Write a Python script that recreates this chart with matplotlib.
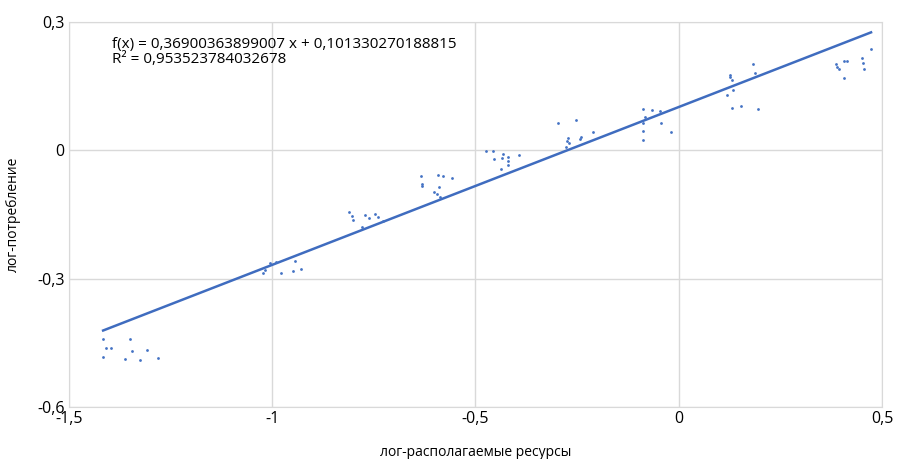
import matplotlib.pyplot as plt
import numpy as np

# log available resources vs log consumption
log_res = [
    -1.416, -1.349, -1.410, -1.397, -1.345, -1.309, -1.416, -1.362, -1.325, -1.280,
    -1.022, -1.006, -0.990, -0.979, -0.943, -0.948, -0.930, -1.017,
    -0.810, -0.803, -0.802, -0.772, -0.761, -0.748, -0.740, -0.778, -0.728,
    -0.634, -0.593, -0.581, -0.559, -0.632, -0.631, -0.591, -0.601, -0.595, -0.587,
    -0.475, -0.458, -0.455, -0.432, -0.436, -0.419, -0.420, -0.420, -0.392, -0.437,
    -0.296, -0.253, -0.211, -0.273, -0.276, -0.270, -0.240, -0.242, -0.278,
    -0.089, -0.065, -0.046, -0.084, -0.044, -0.089, -0.087, -0.020, -0.087,
    0.182, 0.188, 0.125, 0.127, 0.132, 0.133, 0.119, 0.130, 0.153, 0.196,
    0.473, 0.386, 0.389, 0.395, 0.407, 0.413, 0.451, 0.454, 0.455, 0.407,
]
log_cons = [
    -0.442, -0.441, -0.462, -0.462, -0.470, -0.466, -0.484, -0.487, -0.491, -0.485,
    -0.287, -0.263, -0.262, -0.287, -0.258, -0.282, -0.278, -0.280,
    -0.144, -0.153, -0.162, -0.152, -0.158, -0.148, -0.156, -0.180, -0.166,
    -0.060, -0.058, -0.061, -0.065, -0.078, -0.084, -0.086, -0.097, -0.101, -0.109,
    -0.002, -0.002, -0.020, -0.008, -0.019, -0.016, -0.026, -0.034, -0.011, -0.043,
    0.064, 0.072, 0.044, 0.030, 0.022, 0.018, 0.031, 0.026, 0.009,
    0.096, 0.095, 0.092, 0.078, 0.065, 0.064, 0.045, 0.044, 0.025,
    0.201, 0.181, 0.177, 0.172, 0.164, 0.141, 0.130, 0.100, 0.104, 0.097,
    0.238, 0.203, 0.196, 0.191, 0.210, 0.210, 0.216, 0.205, 0.191, 0.169,
]
slope = 0.36900363899007
intercept = 0.101330270188815
r2 = 0.953523784032678

x_ticks = [-1.5, -1, -0.5, 0, 0.5]
y_ticks = [-0.6, -0.3, 0, 0.3]

plt.rcParams['font.family'] = ['Open Sans', 'DejaVu Sans']

fig = plt.figure(figsize=(8.97, 4.59), dpi=100)
ax = fig.add_axes([0.0769, 0.1133, 0.9064, 0.8387])

x = np.array(log_res)
ax.scatter(x, log_cons, s=4, color='#4472c4', zorder=3, linewidths=0)
xl = np.array([x.min(), x.max()])
ax.plot(xl, slope * xl + intercept, color='#3f6cbf', lw=1.8, zorder=2)

ax.set_xlim(-1.5, 0.5)
ax.set_ylim(-0.6, 0.3)
ax.set_xticks(x_ticks)
ax.set_yticks(y_ticks)
fmt = lambda v: ('%g' % v).replace('.', ',')
ax.set_xticklabels([fmt(v) for v in x_ticks], fontsize=11.5)
ax.set_yticklabels([fmt(v) for v in y_ticks], fontsize=11.5)
ax.tick_params(length=0, pad=3)
ax.grid(True, color='#d9d9d9', lw=1)
ax.set_axisbelow(True)
for s in ax.spines.values():
    s.set_color('#d9d9d9')

ax.set_xlabel('лог-располагаемые ресурсы', fontsize=10, labelpad=13)
ax.set_ylabel('лог-потребление', fontsize=10, labelpad=12)

eq = 'f(x) = ' + ('%.14f' % slope).replace('.', ',') + ' x + ' + \
     ('%.15f' % intercept).replace('.', ',') + '\nR² = ' + ('%.15f' % r2).replace('.', ',')
ax.text(0.053, 0.962, eq, transform=ax.transAxes, fontsize=11,
        va='top', ha='left', linespacing=1.0)

fig.savefig('out.png', dpi=100)
